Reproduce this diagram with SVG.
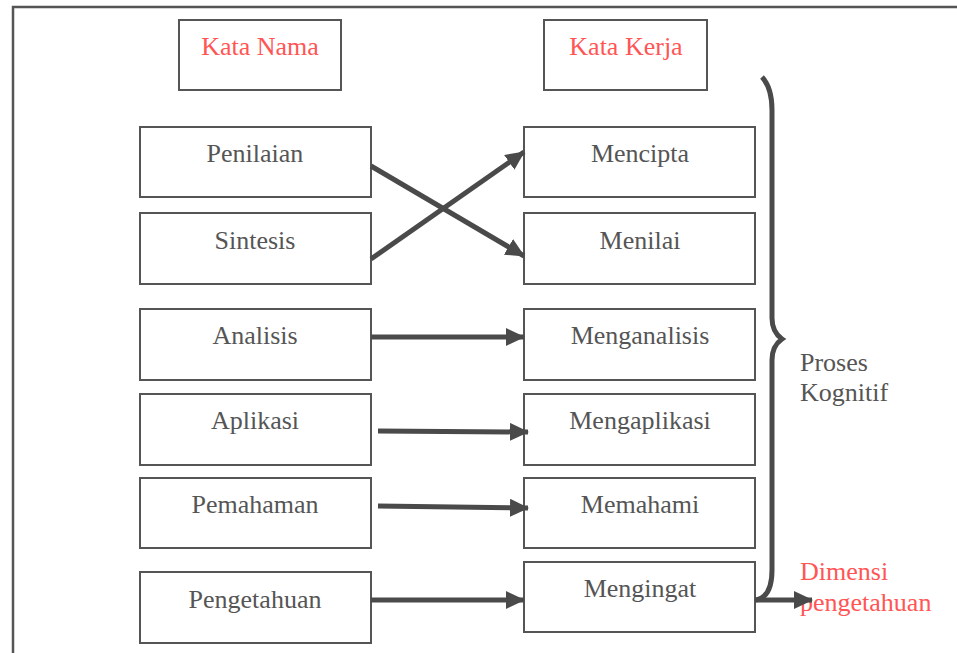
<svg xmlns="http://www.w3.org/2000/svg" width="957" height="653" viewBox="0 0 957 653">
<style>
.box{fill:#fff;stroke:#555;stroke-width:2}
.t{font-family:'Liberation Serif','DejaVu Serif',serif;font-size:26px;fill:#555;text-anchor:middle}
.r{fill:#f55}
.l{text-anchor:start}
.c{fill:none;stroke:#4a4a4a;stroke-width:5}
</style>
<defs>
<marker id="ah" markerUnits="userSpaceOnUse" markerWidth="20" markerHeight="18" refX="18" refY="9" orient="auto">
<path d="M0,0 L19,9 L0,18 Z" fill="#4a4a4a"/>
</marker>
</defs>
<rect width="957" height="653" fill="#fff"/>
<path d="M13,653 V7 H957" fill="none" stroke="#555" stroke-width="2.5"/>
<g id="kata-nama"><rect class="box" x="179" y="20" width="162" height="70"/><text class="t r" x="260" y="55">Kata Nama</text></g>
<g id="kata-kerja"><rect class="box" x="544" y="20" width="163" height="70"/><text class="t r" x="626" y="55">Kata Kerja</text></g>
<g id="penilaian"><rect class="box" x="140" y="127" width="231" height="70"/><text class="t" x="255" y="162">Penilaian</text></g>
<g id="sintesis"><rect class="box" x="140" y="213" width="231" height="71"/><text class="t" x="255" y="249">Sintesis</text></g>
<g id="analisis"><rect class="box" x="140" y="309" width="231" height="71"/><text class="t" x="255" y="344">Analisis</text></g>
<g id="aplikasi"><rect class="box" x="140" y="394" width="231" height="71"/><text class="t" x="255" y="429">Aplikasi</text></g>
<g id="pemahaman"><rect class="box" x="140" y="478" width="231" height="70"/><text class="t" x="255" y="513">Pemahaman</text></g>
<g id="pengetahuan"><rect class="box" x="140" y="572" width="231" height="71"/><text class="t" x="255" y="608">Pengetahuan</text></g>
<g id="mencipta"><rect class="box" x="524" y="127" width="231" height="70"/><text class="t" x="640" y="162">Mencipta</text></g>
<g id="menilai"><rect class="box" x="524" y="213" width="231" height="71"/><text class="t" x="640" y="249">Menilai</text></g>
<g id="menganalisis"><rect class="box" x="524" y="309" width="231" height="71"/><text class="t" x="640" y="344">Menganalisis</text></g>
<g id="mengaplikasi"><rect class="box" x="524" y="394" width="231" height="71"/><text class="t" x="640" y="429">Mengaplikasi</text></g>
<g id="memahami"><rect class="box" x="524" y="478" width="231" height="70"/><text class="t" x="640" y="513">Memahami</text></g>
<g id="mengingat"><rect class="box" x="524" y="562" width="231" height="70"/><text class="t" x="640" y="597">Mengingat</text></g>
<g id="proses-kognitif"><text class="t l" x="800" y="371">Proses</text><text class="t l" x="800" y="401">Kognitif</text></g>
<g id="dimensi-pengetahuan"><text class="t r l" x="800" y="580">Dimensi</text><text class="t r l" x="800" y="611">pengetahuan</text></g>
<g id="connectors">
<line class="c" x1="371" y1="166" x2="524" y2="256" marker-end="url(#ah)"/>
<line class="c" x1="371" y1="259" x2="524" y2="152" marker-end="url(#ah)"/>
<line class="c" x1="371" y1="337" x2="524" y2="337" marker-end="url(#ah)"/>
<line class="c" x1="378" y1="431" x2="528" y2="432" marker-end="url(#ah)"/>
<line class="c" x1="378" y1="506" x2="528" y2="508" marker-end="url(#ah)"/>
<line class="c" x1="371" y1="600" x2="524" y2="600" marker-end="url(#ah)"/>
<path class="c" d="M762,77 Q772,88 772,110 V318 Q772,332 782,339 Q772,346 772,360 V570 Q772,597 756,600"/>
<line class="c" x1="755" y1="600" x2="812" y2="600" marker-end="url(#ah)"/>
</g>
</svg>
